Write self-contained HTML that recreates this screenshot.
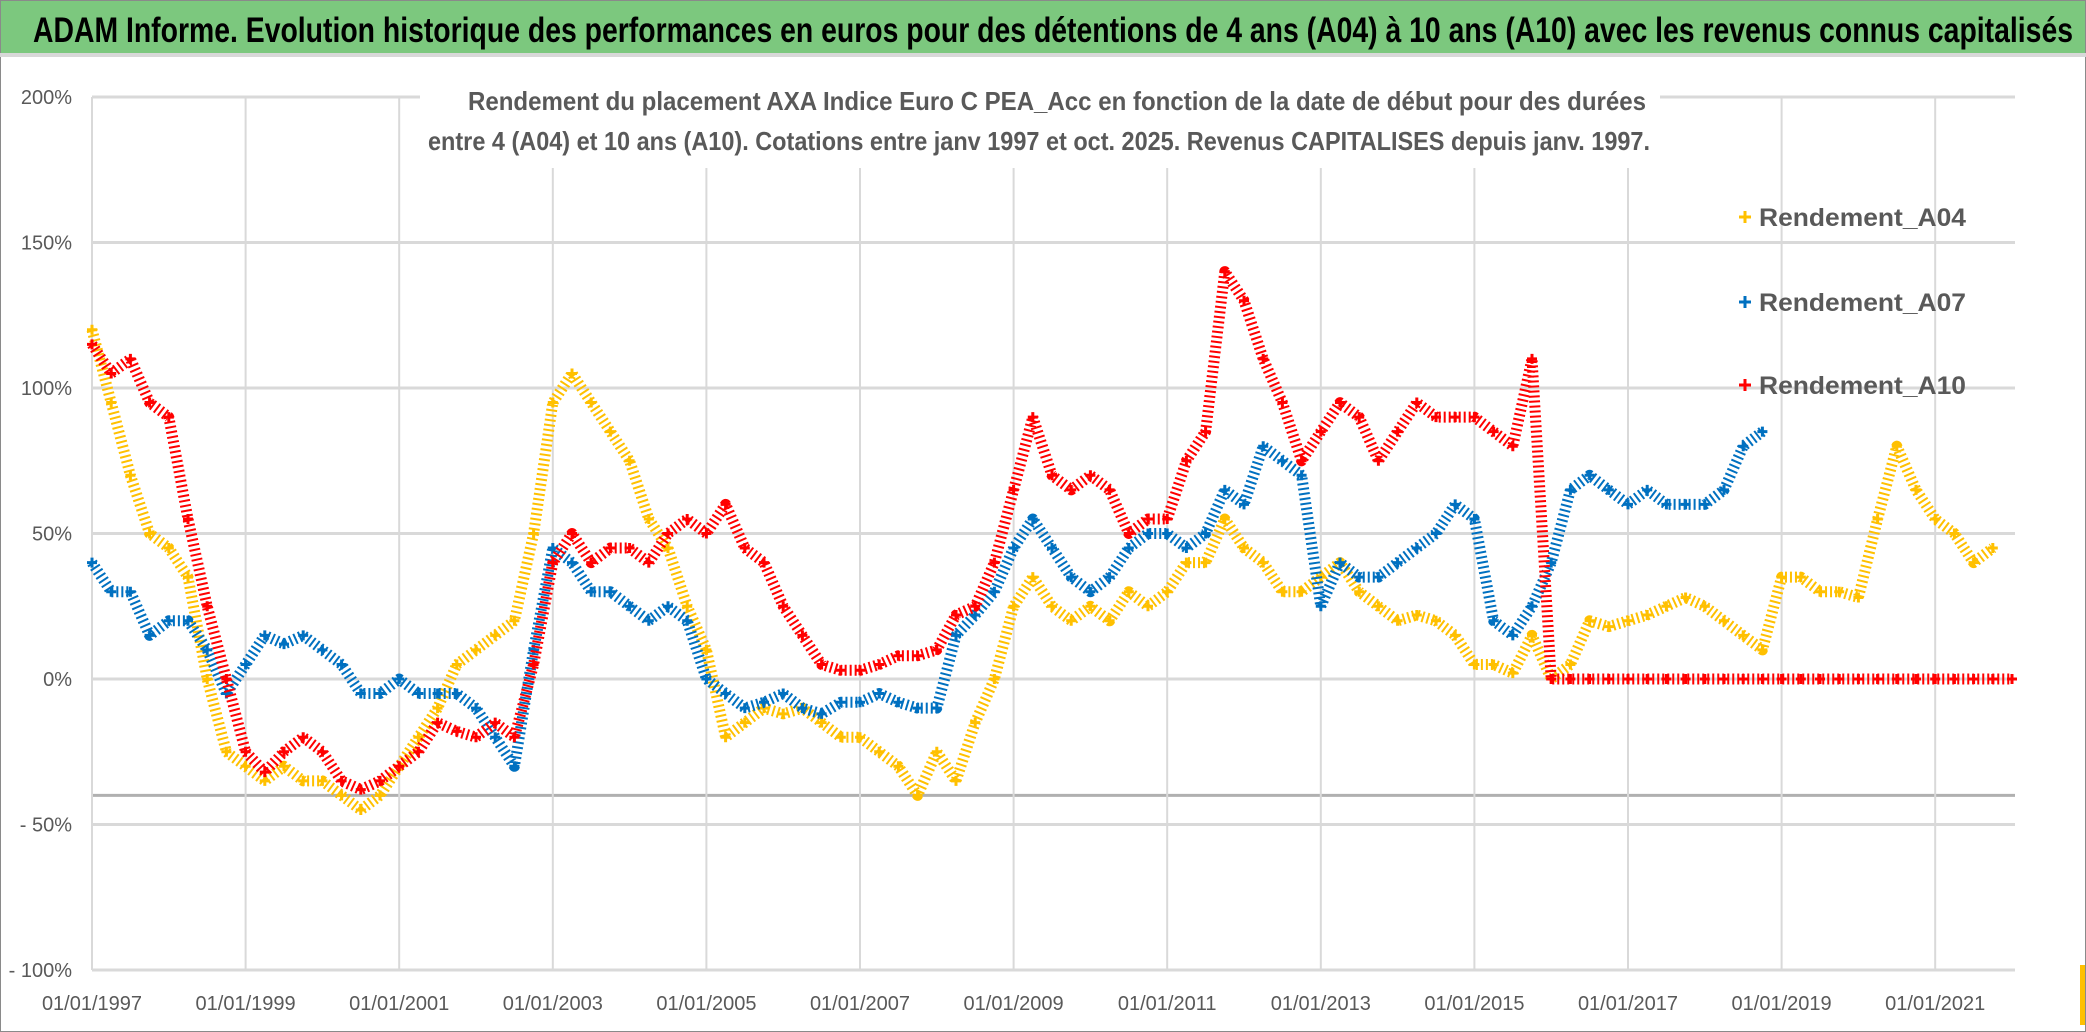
<!DOCTYPE html>
<html><head><meta charset="utf-8"><style>
html,body{margin:0;padding:0;background:#fff;width:2086px;height:1032px;overflow:hidden}
svg text{font-family:"Liberation Sans",sans-serif}
</style></head><body>
<svg id="chart" width="2086" height="1032" viewBox="0 0 2086 1032" xmlns="http://www.w3.org/2000/svg">
<rect x="0" y="0" width="2086" height="1032" fill="#fff" stroke="#8a8a8a" stroke-width="2"/>
<rect x="1" y="1" width="2084" height="52" fill="#7cc87e"/>
<rect x="0" y="53" width="2086" height="4" fill="#d8d8d8"/>
<text x="33" y="42" font-size="35" font-weight="bold" fill="#000" textLength="2040" lengthAdjust="spacingAndGlyphs">ADAM Informe. Evolution historique des performances en euros pour des détentions de 4 ans (A04) à 10 ans (A10) avec les revenus connus capitalisés</text>
<g id="grid"></g>
<g id="axes"></g>
<g id="series"></g>
<rect x="420" y="78" width="1240" height="90" fill="#fff"/>
<text x="1057" y="110" text-anchor="middle" font-size="26" font-weight="bold" fill="#595959" textLength="1178" lengthAdjust="spacingAndGlyphs">Rendement du placement AXA Indice Euro C PEA_Acc en fonction de la date de début pour des durées</text>
<text x="1039" y="150" text-anchor="middle" font-size="26" font-weight="bold" fill="#595959" textLength="1222" lengthAdjust="spacingAndGlyphs">entre 4 (A04) et 10 ans (A10). Cotations entre janv 1997 et oct. 2025. Revenus CAPITALISES depuis janv. 1997.</text>
<g id="legend"></g>
<rect x="2080" y="965" width="5" height="60" fill="#ffc000"/>
</svg>
<script>
const years=[1997,1999,2001,2003,2005,2007,2009,2011,2013,2015,2017,2019,2021];
const yTicks=[200,150,100,50,0,-50,-100];
const yTickLabels=["200%","150%","100%","50%","0%","- 50%","- 100%"];
const a04Start=1997;
const a04=[120,95,70,50,45,35,0,-25,-30,-35,-30,-35,-35,-40,-45,-40,-30,-20,-10,5,10,15,20,50,95,105,95,85,75,55,45,25,10,-20,-15,-10,-12,-10,-15,-20,-20,-25,-30,-40,-25,-35,-15,0,25,35,25,20,25,20,30,25,30,40,40,55,45,40,30,30,35,40,30,25,20,22,20,15,5,5,2,15,0,5,20,18,20,22,25,28,25,20,15,10,35,35,30,30,28,55,80,65,55,50,40,45];
const a07Start=1997;
const a07=[40,30,30,15,20,20,10,-5,5,15,12,15,10,5,-5,-5,0,-5,-5,-5,-10,-20,-30,10,45,40,30,30,25,20,25,20,0,-5,-10,-8,-5,-10,-12,-8,-8,-5,-8,-10,-10,15,22,30,45,55,45,35,30,35,45,50,50,45,50,65,60,80,75,70,25,40,35,35,40,45,50,60,55,20,15,25,40,65,70,65,60,65,60,60,60,65,80,85];
const a10Start=1997;
const a10=[115,105,110,95,90,55,25,0,-25,-32,-25,-20,-25,-35,-38,-35,-30,-25,-15,-18,-20,-15,-20,5,40,50,40,45,45,40,50,55,50,60,45,40,25,15,5,3,3,5,8,8,10,22,25,40,65,90,70,65,70,65,50,55,55,75,85,140,130,110,95,75,85,95,90,75,85,95,90,90,90,85,80,110,
  0,0,0,0,0,0,0,0,0,0,
  0,0,0,0,0,0,0,0,0,0,
  0,0,0,0,0];
const seriesNames=["Rendement_A04","Rendement_A07","Rendement_A10"];
const seriesColors=["#ffc000","#0070c0","#ff0000"];

const NS="http://www.w3.org/2000/svg";
const X0=92,PX_PER_YEAR=76.8,Y0=679,PX_PER_PCT=2.91;
const xs=yr=>X0+(yr-1997)*PX_PER_YEAR;
const ys=p=>Y0-p*PX_PER_PCT;
function mk(tag,attrs,parent){const e=document.createElementNS(NS,tag);for(const k in attrs)e.setAttribute(k,attrs[k]);parent.appendChild(e);return e;}
const grid=document.getElementById('grid'),axes=document.getElementById('axes'),ser=document.getElementById('series'),leg=document.getElementById('legend');
const xL=xs(1997),xR=2015;
yTicks.forEach((t,i)=>{
  const l=mk('line',{x1:xL,x2:xR,y1:ys(t),y2:ys(t),stroke:'#d9d9d9','stroke-width':3},grid);
  
  
  const tx=mk('text',{x:72,y:ys(t)+7,'text-anchor':'end','font-size':20,fill:'#595959'},axes);
  tx.textContent=yTickLabels[i];
  
  
});
const base=mk('line',{x1:xL,x2:xR,y1:ys(-40),y2:ys(-40),stroke:'#b0b0b0','stroke-width':3},grid);


years.forEach(y=>{
  const l=mk('line',{x1:xs(y),x2:xs(y),y1:ys(200),y2:ys(-100),stroke:'#d9d9d9','stroke-width':2},grid);
  
  
  const tx=mk('text',{x:xs(y),y:1010,'text-anchor':'middle','font-size':20,fill:'#595959'},axes);
  tx.textContent='01/01/'+y;
  
  
});
function drawSeries(vals,start,color,name){
  const g=mk('g',{},ser);
  
  
  const pts=vals.map((v,i)=>xs(start+i*0.25).toFixed(1)+','+ys(v).toFixed(1)).join(' ');
  const pl=mk('polyline',{points:pts,fill:'none',stroke:color,'stroke-width':11,'stroke-linejoin':'round','stroke-linecap':'butt','stroke-dasharray':'2 3'},g);
  
  
  vals.forEach((v,i)=>{
    const x=xs(start+i*0.25),y=ys(v);
    const p=mk('path',{d:`M${x-5},${y}H${x+5}M${x},${y-5}V${y+5}`,stroke:color,'stroke-width':3},g);
    
    
  });
}
drawSeries(a04,a04Start,seriesColors[0],'series-a04');
drawSeries(a07,a07Start,seriesColors[1],'series-a07');
drawSeries(a10,a10Start,seriesColors[2],'series-a10');
const legY=[217,302,385];
seriesNames.forEach((n,i)=>{
  const g=mk('g',{},leg);
  
  
  const x=1745,y=legY[i];
  mk('path',{d:`M${x-6},${y}H${x+6}M${x},${y-6}V${y+6}`,stroke:seriesColors[i],'stroke-width':3},g);
  const t=mk('text',{x:1759,y:y+9,'font-size':25,'font-weight':'bold',fill:'#595959',textLength:207,lengthAdjust:'spacingAndGlyphs'},g);
  t.textContent=n;
});
</script>
</body></html>
